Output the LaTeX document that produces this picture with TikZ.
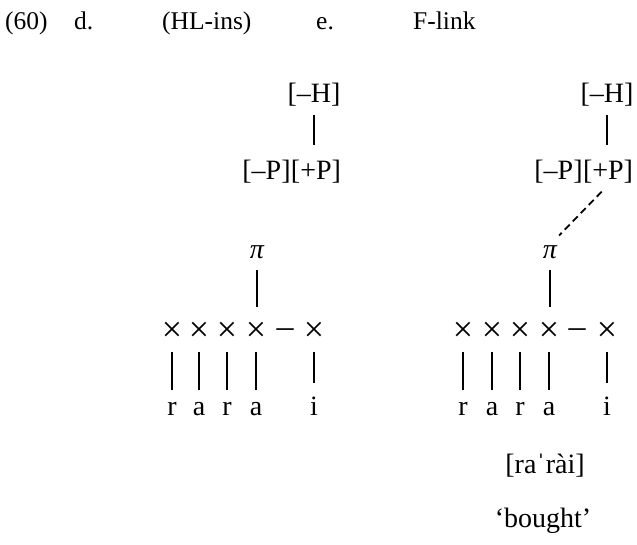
\documentclass[tikz,border=0pt]{standalone}
\usepackage{fontspec}
\setmainfont{Liberation Serif}
\usetikzlibrary{positioning}

\tikzset{
  tone/.style={inner sep=0pt, text height=19pt, text depth=6pt, anchor=base},
  seg/.style={inner sep=0pt, text height=13pt, text depth=0pt, anchor=base},
  slot/.style={inner sep=0pt, text height=20pt, text depth=0pt, anchor=base, font=\fontsize{36}{36}\selectfont},
  label/.style={inner sep=0pt, anchor=base west, font=\fontsize{25.5}{30}\selectfont},
  assoc/.style={line width=1.8pt},
}

\begin{document}
\begin{tikzpicture}[x=1pt, y=-1pt, font=\fontsize{28}{34}\selectfont]
\useasboundingbox (0,0) rectangle (637,544);
% header
\node[label] (ex) at (5,29) {(60)};
\node[label] (d) at (74,29) {d.};
\node[label] (dname) at (162,29) {(HL-ins)};
\node[label] (e) at (316,29) {e.};
\node[label] (ename) at (413,29) {F-link};
% d. tonal tier
\node[tone] (lH) at (314,102) {[–H]};
\node[tone] (lpP) at (316,179) {[+P]};
\node[tone, anchor=base east] (lmP) at (lpP.base west) {[–P]};
\draw[assoc, shorten <=7pt, shorten >=15pt] (lH.south) -- (lH.south |- lpP.north);
% d. skeleton
\node[seg] (lpi) at (257,258) {\itshape π};
\node[slot] (lx1) at (172,341.5) {×};
\node[slot] (lx2) at (199,341.5) {×};
\node[slot] (lx3) at (227,341.5) {×};
\node[slot] (lx4) at (256,341.5) {×};
\node[slot, font=\fontsize{34}{34}\selectfont] (ldash) at (285,337.5) {–};
\node[slot] (lx5) at (314,341.5) {×};
\draw[assoc, shorten <=12pt, shorten >=14.5pt] (lpi.south) -- (lpi.south |- lx4.north);
\node[seg] (lr1) at (172,415) {r};
\node[seg] (la1) at (199,415) {a};
\node[seg] (lr2) at (227,415) {r};
\node[seg] (la2) at (256,415) {a};
\node[seg] (li) at (314,415) {i};
\foreach \x/\s in {lx1/lr1, lx2/la1, lx3/lr2, lx4/la2}
  \draw[assoc, shorten <=10.5pt, shorten >=12pt] (\x.south) -- (\s.north);
\draw[assoc, shorten <=10.5pt, shorten >=19pt] (lx5.south) -- (li.north);
% e. tonal tier
\node[tone] (rH) at (607,102) {[–H]};
\node[tone] (rpP) at (608,179) {[+P]};
\node[tone, anchor=base east] (rmP) at (rpP.base west) {[–P]};
\draw[assoc, shorten <=7pt, shorten >=15pt] (rH.south) -- (rH.south |- rpP.north);
% e. skeleton
\node[seg] (rpi) at (550,258) {\itshape π};
\node[slot] (rx1) at (463,341.5) {×};
\node[slot] (rx2) at (492,341.5) {×};
\node[slot] (rx3) at (520,341.5) {×};
\node[slot] (rx4) at (549,341.5) {×};
\node[slot, font=\fontsize{34}{34}\selectfont] (rdash) at (577,337.5) {–};
\node[slot] (rx5) at (607,341.5) {×};
\draw[assoc, shorten <=12pt, shorten >=14.5pt] (rpi.south) -- (rpi.south |- rx4.north);
\draw[assoc, dash pattern=on 7pt off 4.5pt, shorten <=9pt, shorten >=13pt] (rpP.south) -- (rpi.north);
\node[seg] (rr1) at (463,415) {r};
\node[seg] (ra1) at (492,415) {a};
\node[seg] (rr2) at (520,415) {r};
\node[seg] (ra2) at (549,415) {a};
\node[seg] (ri) at (607,415) {i};
\foreach \x/\s in {rx1/rr1, rx2/ra1, rx3/rr2, rx4/ra2}
  \draw[assoc, shorten <=10.5pt, shorten >=12pt] (\x.south) -- (\s.north);
\draw[assoc, shorten <=10.5pt, shorten >=19pt] (rx5.south) -- (ri.north);
% output form and gloss
\node[inner sep=0pt, anchor=base] (form) at (545,473) {[raˈrài]};
\node[inner sep=0pt, anchor=base] (gloss) at (543,527) {‘bought’};
\end{tikzpicture}
\end{document}
